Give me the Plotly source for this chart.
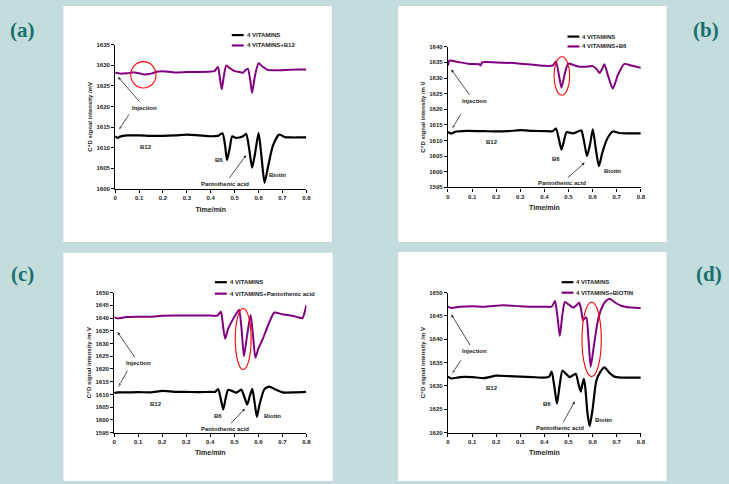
import plotly.graph_objects as go

W, H = 729, 484
BG = "#C3DCDC"
PURPLE = "#800080"
LABEL_COLOR = "#17706E"
FONT = "Arial, Liberation Sans, sans-serif"

# ---------------- data ----------------
# Panel (a)
a_base_x = [0, 0.01, 0.02, 0.05, 0.1, 0.15, 0.2, 0.25, 0.3, 0.35, 0.4, 0.43, 0.449, 0.46, 0.468, 0.478, 0.49, 0.505, 0.52, 0.535, 0.548, 0.56, 0.573, 0.585, 0.6, 0.612, 0.625, 0.64, 0.66, 0.686, 0.71, 0.74, 0.77, 0.8]
a_base_y = [1612.8, 1612.4, 1612.7, 1613.0, 1613.0, 1612.9, 1612.9, 1613.0, 1613.2, 1613.0, 1612.8, 1612.9, 1613.5, 1610.5, 1607.0, 1609.5, 1612.8, 1612.4, 1612.5, 1612.8, 1613.4, 1610.0, 1605.2, 1608.5, 1613.6, 1608.0, 1601.5, 1605.5, 1610.5, 1613.2, 1612.6, 1612.5, 1612.5, 1612.5]
a_add_x = [0, 0.02, 0.05, 0.08, 0.1, 0.12, 0.15, 0.18, 0.2, 0.25, 0.3, 0.35, 0.4, 0.415, 0.43, 0.438, 0.446, 0.455, 0.465, 0.48, 0.5, 0.52, 0.535, 0.545, 0.555, 0.565, 0.573, 0.585, 0.6, 0.615, 0.638, 0.68, 0.72, 0.76, 0.8]
a_add_y = [1628.2, 1628.0, 1628.1, 1628.3, 1628.1, 1627.8, 1628.0, 1628.5, 1628.6, 1628.3, 1628.4, 1628.4, 1628.5, 1628.6, 1629.6, 1627.0, 1624.2, 1627.5, 1630.0, 1629.3, 1628.6, 1628.4, 1628.2, 1628.8, 1629.2, 1626.5, 1623.3, 1627.5, 1630.5, 1629.8, 1628.9, 1628.8, 1628.9, 1629.0, 1629.0]

# Panel (b)
b_base_x = [0, 0.014, 0.03, 0.08, 0.15, 0.2, 0.25, 0.3, 0.35, 0.4, 0.435, 0.448, 0.46, 0.471, 0.48, 0.492, 0.505, 0.519, 0.535, 0.553, 0.565, 0.577, 0.59, 0.601, 0.613, 0.626, 0.64, 0.66, 0.684, 0.71, 0.75, 0.8]
b_base_y = [1612.7, 1612.2, 1612.8, 1613.1, 1613.0, 1612.9, 1613.0, 1613.3, 1613.1, 1613.0, 1613.0, 1613.8, 1610.5, 1607.1, 1609.5, 1612.7, 1612.5, 1612.3, 1612.7, 1613.2, 1609.5, 1605.0, 1609.0, 1613.6, 1607.5, 1601.8, 1606.0, 1610.5, 1612.9, 1612.4, 1612.3, 1612.3]
b_add_x = [0, 0.005, 0.012, 0.05, 0.09, 0.13, 0.136, 0.142, 0.2, 0.3, 0.4, 0.435, 0.448, 0.46, 0.471, 0.485, 0.499, 0.52, 0.54, 0.57, 0.6, 0.615, 0.629, 0.64, 0.649, 0.665, 0.684, 0.705, 0.732, 0.76, 0.8]
b_add_y = [1634.0, 1635.5, 1635.6, 1635.0, 1634.5, 1634.4, 1634.0, 1635.0, 1635.0, 1634.6, 1633.9, 1634.0, 1635.3, 1631.0, 1626.9, 1631.5, 1634.6, 1634.2, 1633.7, 1633.6, 1633.8, 1633.0, 1631.6, 1633.0, 1634.4, 1630.5, 1626.6, 1631.0, 1634.5, 1634.0, 1633.3]

# Panel (c)
c_base_x = [0, 0.014, 0.05, 0.1, 0.15, 0.2, 0.22, 0.25, 0.3, 0.35, 0.4, 0.42, 0.433, 0.444, 0.454, 0.464, 0.474, 0.49, 0.509, 0.529, 0.542, 0.554, 0.565, 0.575, 0.585, 0.594, 0.605, 0.625, 0.646, 0.67, 0.701, 0.75, 0.8]
c_base_y = [1610.5, 1610.8, 1610.8, 1610.9, 1610.8, 1611.4, 1611.3, 1611.0, 1611.0, 1610.9, 1611.0, 1611.0, 1612.1, 1608.0, 1604.1, 1608.5, 1611.8, 1611.4, 1610.7, 1611.9, 1609.0, 1606.0, 1609.5, 1612.2, 1606.5, 1601.2, 1606.0, 1612.0, 1613.1, 1612.0, 1610.8, 1610.8, 1611.0]
c_add_x = [0, 0.014, 0.05, 0.1, 0.15, 0.2, 0.25, 0.3, 0.35, 0.4, 0.43, 0.444, 0.453, 0.462, 0.475, 0.495, 0.51, 0.52, 0.53, 0.54, 0.553, 0.568, 0.578, 0.588, 0.6, 0.619, 0.64, 0.667, 0.7, 0.742, 0.765, 0.784, 0.792, 0.8]
c_add_y = [1640.3, 1639.9, 1640.4, 1640.5, 1640.5, 1640.9, 1641.0, 1641.0, 1641.0, 1641.0, 1641.0, 1642.5, 1637.0, 1631.9, 1636.0, 1639.6, 1642.0, 1643.3, 1636.0, 1625.0, 1633.0, 1641.2, 1633.0, 1624.4, 1628.0, 1631.9, 1637.0, 1642.2, 1641.5, 1640.9, 1640.3, 1640.0, 1642.0, 1645.1]

# Panel (d)
d_base_x = [0, 0.014, 0.05, 0.1, 0.15, 0.2, 0.25, 0.3, 0.35, 0.4, 0.42, 0.43, 0.441, 0.452, 0.463, 0.475, 0.49, 0.505, 0.53, 0.541, 0.551, 0.558, 0.564, 0.57, 0.579, 0.588, 0.6, 0.615, 0.632, 0.649, 0.67, 0.69, 0.72, 0.76, 0.8]
d_base_y = [1632.0, 1631.6, 1631.9, 1631.9, 1631.7, 1632.2, 1632.1, 1632.0, 1631.9, 1631.8, 1632.0, 1633.1, 1630.0, 1626.2, 1630.0, 1633.3, 1632.6, 1631.9, 1632.6, 1630.5, 1628.8, 1630.5, 1631.5, 1629.5, 1624.0, 1621.4, 1625.0, 1631.0, 1633.0, 1634.0, 1632.8, 1632.0, 1631.8, 1631.8, 1631.8]
d_add_x = [0, 0.014, 0.05, 0.1, 0.15, 0.2, 0.23, 0.3, 0.35, 0.4, 0.43, 0.444, 0.454, 0.464, 0.474, 0.485, 0.5, 0.519, 0.535, 0.544, 0.552, 0.56, 0.567, 0.574, 0.583, 0.592, 0.605, 0.62, 0.636, 0.655, 0.67, 0.69, 0.718, 0.76, 0.8]
d_add_y = [1647.0, 1646.7, 1647.0, 1647.1, 1647.0, 1647.2, 1647.3, 1647.1, 1647.0, 1647.0, 1647.0, 1648.2, 1645.0, 1640.7, 1645.0, 1648.0, 1647.5, 1646.8, 1647.4, 1647.9, 1646.5, 1644.1, 1644.5, 1644.7, 1640.0, 1634.1, 1638.5, 1643.5, 1646.5, 1648.2, 1648.7, 1648.0, 1647.2, 1646.8, 1646.7]

panel_tags = ["(a)", "(b)", "(c)", "(d)"]
base_name = "4 VITAMINS"
added_names = ["4 VITAMINS+B12", "4 VITAMINS+B6", "4 VITAMINS+Pantothenic acid", "4 VITAMINS+BIOTIN"]
y_ranges = [(1600, 1635), (1595, 1640), (1595, 1650), (1620, 1650)]
x_title = "Time/min"
y_titles = ["C\u2074D signal intensity /mV", "C\u2074D signal intensity /m V",
            "C\u2074D signal intensity /m V", "C\u2074D signal intensity /m V"]

series = [
    (a_base_x, a_base_y, a_add_x, a_add_y),
    (b_base_x, b_base_y, b_add_x, b_add_y),
    (c_base_x, c_base_y, c_add_x, c_add_y),
    (d_base_x, d_base_y, d_add_x, d_add_y),
]

# plain peak labels (label, x, y) in data coords
peak_labels = [
    [("B12", 0.127, 1610.2), ("B6", 0.435, 1607.0), ("Biotin", 0.68, 1603.4)],
    [("B12", 0.181, 1609.4), ("B6", 0.448, 1604.2), ("Biotin", 0.684, 1600.3)],
    [("B12", 0.172, 1606.3), ("B6", 0.433, 1601.5), ("Biotin", 0.66, 1601.5)],
    [("B12", 0.181, 1629.5), ("B6", 0.41, 1626.1), ("Biotin", 0.647, 1622.8)],
]
# "Injection" label position, arrow head to upper trace start, and tail/head of the arrow to lower trace start
injection = [
    ((0.124, 1619.7), (0.012, 1627.2), (0.058, 1618.1), (0.012, 1614.1)),
    ((0.108, 1622.6), (0.014, 1632.7), (0.053, 1618.4), (0.014, 1613.4)),
    ((0.103, 1622.2), (0.014, 1634.5), (0.055, 1619.3), (0.014, 1612.5)),
    ((0.108, 1637.4), (0.014, 1645.3), (0.053, 1635.5), (0.014, 1632.4)),
]
# "Pantothenic acid" label position and arrow head
panto = [
    ((0.459, 1601.2), (0.548, 1608.2)),
    ((0.471, 1596.3), (0.567, 1602.9)),
    ((0.462, 1596.3), (0.544, 1604.4)),
    ((0.464, 1620.9), (0.526, 1626.7)),
]
# red highlight ellipses (x0, x1, y0, y1) in data coords
highlights = [
    (0.065, 0.171, 1624.5, 1630.9),
    (0.44, 0.505, 1624.5, 1636.8),
    (0.504, 0.57, 1619.8, 1643.8),
    (0.556, 0.636, 1632.0, 1648.0),
]

# ---------------- layout geometry (pixels) ----------------
white_boxes = [(62, 3, 333, 242), (400, 3, 671, 242), (62, 253, 334, 484), (400, 252, 671, 484)]
plot_boxes = [(114.3, 42.3, 307.3, 188.3), (450.3, 44.3, 645, 186.7),
              (113.3, 293.3, 307.3, 435), (450.3, 293.3, 645, 435)]
legend_pos = [(232, 32.5, 43), (571, 34, 44), (215, 282.7, 294.3), (565, 282.7, 293.3)]
tag_pos = [(21, 27), (711, 27), (21, 274), (714, 274)]


def px(x):
    return x / W


def py(y):
    return 1 - y / H


fig = go.Figure()
shapes = []
annotations = []
label_font = dict(family=FONT, size=6, color="#222", weight="bold")

for i in range(4):
    suffix = "" if i == 0 else str(i + 1)
    xa, ya = "x" + suffix, "y" + suffix
    bx, by, ax_, ay_ = series[i]
    fig.add_trace(go.Scatter(x=bx, y=by, mode="lines", name=base_name, xaxis=xa, yaxis=ya,
                             line=dict(color="black", width=2.2, shape="spline", smoothing=0.6),
                             showlegend=False, hoverinfo="skip"))
    fig.add_trace(go.Scatter(x=ax_, y=ay_, mode="lines", name=added_names[i], xaxis=xa, yaxis=ya,
                             line=dict(color=PURPLE, width=2, shape="spline", smoothing=0.6),
                             showlegend=False, hoverinfo="skip"))

    # second injection arrow (to lower trace start), drawn as a small arrow trace
    (itx, ity), (h1x, h1y), (t2x, t2y), (h2x, h2y) = injection[i]
    fig.add_trace(go.Scatter(x=[t2x, h2x], y=[t2y, h2y], mode="lines+markers", xaxis=xa, yaxis=ya,
                             line=dict(color="#222", width=0.8),
                             marker=dict(symbol=["circle", "arrow"], size=[0, 6], color="#222",
                                         angleref="previous"),
                             showlegend=False, hoverinfo="skip"))

    l, t, r, b = plot_boxes[i]
    axis_common = dict(showline=True, linecolor="black", linewidth=1.3, ticks="outside",
                       ticklen=3, tickwidth=1, tickcolor="black", showgrid=False, zeroline=False,
                       tickfont=dict(family=FONT, size=6, color="#222", weight="bold"))
    fig.layout["xaxis" + suffix] = dict(domain=[px(l), px(r)], range=[0, 0.8], dtick=0.1, tick0=0,
                                        anchor=ya, title=dict(text=x_title, standoff=6,
                                                              font=dict(family=FONT, size=7, color="#222", weight="bold")),
                                        **axis_common)
    fig.layout["yaxis" + suffix] = dict(domain=[py(b), py(t)], range=list(y_ranges[i]), dtick=5,
                                        anchor=xa, title=dict(text=y_titles[i], standoff=3,
                                                              font=dict(family=FONT, size=6, color="#222", weight="bold")),
                                        **axis_common)

    # white panel background
    x0, y0, x1, y1 = white_boxes[i]
    shapes.append(dict(type="rect", xref="paper", yref="paper", x0=px(x0), x1=px(x1), y0=py(y1), y1=py(y0),
                       fillcolor="white", line=dict(width=0), layer="below"))

    # red highlight
    hx0, hx1, hy0, hy1 = highlights[i]
    shapes.append(dict(type="circle", xref=xa, yref=ya, x0=hx0, x1=hx1, y0=hy0, y1=hy1,
                       line=dict(color="red", width=1.1)))

    # legend (manual)
    lx, ly1, ly2 = legend_pos[i]
    for ly, col, name in [(ly1, "black", base_name), (ly2, PURPLE, added_names[i])]:
        shapes.append(dict(type="line", xref="paper", yref="paper", x0=px(lx), x1=px(lx + 12),
                           y0=py(ly), y1=py(ly), line=dict(color=col, width=2.2)))
        annotations.append(dict(text=name, xref="paper", yref="paper", x=px(lx + 13), y=py(ly),
                                xanchor="left", yanchor="middle", showarrow=False,
                                font=dict(family=FONT, size=6, color="#222", weight="bold")))

    # peak labels
    for txt, tx, ty in peak_labels[i]:
        annotations.append(dict(text=txt, xref=xa, yref=ya, x=tx, y=ty, showarrow=False,
                                xanchor="center", yanchor="middle", font=label_font))

    # Injection label with arrow to upper trace start
    annotations.append(dict(text="Injection", xref=xa, yref=ya, x=h1x, y=h1y, axref=xa, ayref=ya,
                            ax=itx, ay=ity, showarrow=True, arrowhead=2, arrowsize=0.7,
                            arrowwidth=0.8, arrowcolor="#222", standoff=0, startstandoff=2,
                            font=label_font))
    # Pantothenic acid label with arrow
    (ptx, pty), (phx, phy) = panto[i]
    annotations.append(dict(text="Pantothenic acid", xref=xa, yref=ya, x=phx, y=phy, axref=xa, ayref=ya,
                            ax=ptx, ay=pty, showarrow=True, arrowhead=2, arrowsize=0.7,
                            arrowwidth=0.8, arrowcolor="#222", startstandoff=2, font=label_font))

    # panel tag
    tx, ty = tag_pos[i]
    annotations.append(dict(text=panel_tags[i], xref="paper", yref="paper", x=px(tx), y=py(ty),
                            xanchor="center", yanchor="middle", showarrow=False,
                            font=dict(family="Liberation Serif, Times New Roman, serif", size=21,
                                      color=LABEL_COLOR, weight="bold")))

fig.update_layout(width=W, height=H, margin=dict(l=0, r=0, t=0, b=0),
                  paper_bgcolor=BG, plot_bgcolor="rgba(0,0,0,0)",
                  shapes=shapes, annotations=annotations, showlegend=False)

fig.write_html("out.html", config={"displayModeBar": False},
               post_script="document.body.style.margin='0px';document.body.style.padding='0px';")
